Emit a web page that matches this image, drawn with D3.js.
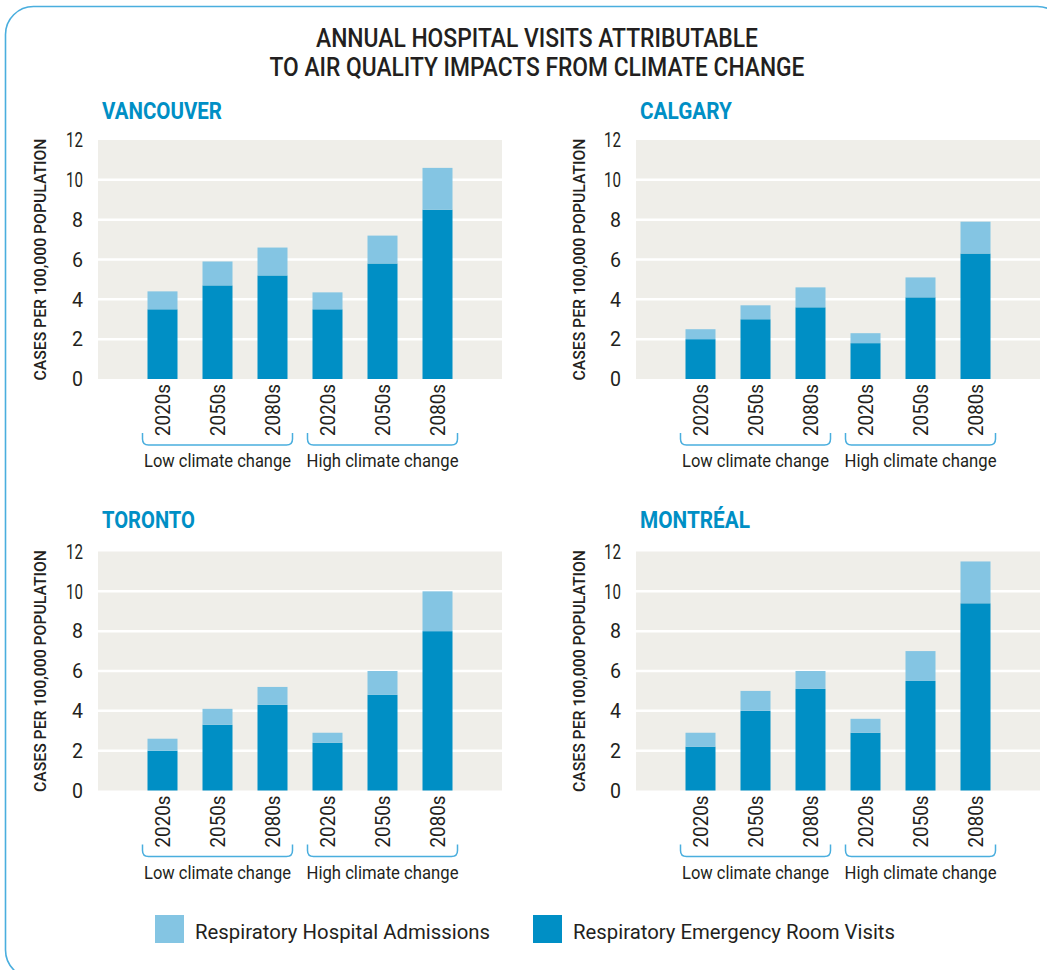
<!DOCTYPE html>
<html><head><meta charset="utf-8">
<script src="https://cdn.jsdelivr.net/npm/d3@7"></script>
<style>body{margin:0;background:#fff}svg{display:block}</style>
</head><body><svg id="c" width="1047" height="970"></svg>
<script>
// ---------- data ----------
const titleLines = ["ANNUAL HOSPITAL VISITS ATTRIBUTABLE", "TO AIR QUALITY IMPACTS FROM CLIMATE CHANGE"];
const cities = ["VANCOUVER", "CALGARY", "TORONTO", "MONTRÉAL"];
const scenarios = ["Low climate change", "High climate change"];
const decades = ["2020s", "2050s", "2080s"];
const seriesNames = ["Respiratory Hospital Admissions", "Respiratory Emergency Room Visits"];
const yTicks = [0, 2, 4, 6, 8, 10, 12];
const yLabel = "CASES PER 100,000 POPULATION";

// Respiratory emergency room visits (dark), per 100,000 — low 2020s,2050s,2080s, high 2020s,2050s,2080s
const vancouverER  = [3.5, 4.7, 5.2, 3.5, 5.8, 8.5];
const calgaryER    = [2.0, 3.0, 3.6, 1.8, 4.1, 6.3];
const torontoER    = [2.0, 3.3, 4.3, 2.4, 4.8, 8.0];
const montrealER   = [2.2, 4.0, 5.1, 2.9, 5.5, 9.4];
// Respiratory hospital admissions (light), stacked on top
const vancouverAdm = [0.9, 1.2, 1.4, 0.85, 1.4, 2.1];
const calgaryAdm   = [0.5, 0.7, 1.0, 0.5, 1.0, 1.6];
const torontoAdm   = [0.6, 0.8, 0.9, 0.5, 1.2, 2.0];
const montrealAdm  = [0.7, 1.0, 0.9, 0.7, 1.5, 2.1];

const erSeries  = [vancouverER, calgaryER, torontoER, montrealER];
const admSeries = [vancouverAdm, calgaryAdm, torontoAdm, montrealAdm];

// ---------- styles ----------
const C_DARK = "#008fc5", C_LIGHT = "#84c5e3", C_BG = "#efeee9", C_TEXT = "#231f20", C_BRACKET = "#4aaede";
const FONT = "'Liberation Sans Narrow','Roboto','Liberation Sans',sans-serif";

const svg = d3.select("#c");

function fit(sel, len) {
  sel.attr("textLength", len).attr("lengthAdjust", "spacingAndGlyphs");
  return sel;
}

// outer rounded border
svg.append("rect")
  .attr("x", 5.5).attr("y", 6.5).attr("width", 1060).attr("height", 971.5)
  .attr("rx", 28).attr("ry", 28)
  .attr("fill", "none").attr("stroke", C_BRACKET).attr("stroke-width", 1.6);

// title
const titleLens = [442, 535];
titleLines.forEach((t, i) => {
  fit(svg.append("text")
    .attr("x", 537).attr("y", 47 + i * 28.5)
    .attr("text-anchor", "middle")
    .attr("font-family", FONT).attr("font-size", 25).attr("font-weight", 500)
    .attr("fill", C_TEXT).text(t), titleLens[i]);
});

// panel geometry
const panels = [
  { left: 98,  zeroY: 379,   titleY: 119, yTitleX: 40 },
  { left: 636, zeroY: 379,   titleY: 119, yTitleX: 579 },
  { left: 98,  zeroY: 790.5, titleY: 528, yTitleX: 40 },
  { left: 636, zeroY: 790.5, titleY: 528, yTitleX: 579 }
];
const plotW = 404, plotH = 239;
const cityLens = [120, 92, 93, 110];

const keys = [];
scenarios.forEach(s => decades.forEach(d => keys.push(s + "|" + d)));

panels.forEach((p, pi) => {
  const g = svg.append("g");
  const x = d3.scaleBand().domain(keys)
    .range([p.left + 37, p.left + 37 + 330])
    .paddingInner(25 / 55).paddingOuter(12.5 / 55);
  const y = d3.scaleLinear().domain([0, 12]).range([p.zeroY, p.zeroY - plotH]);

  // background
  g.append("rect").attr("x", p.left).attr("y", y(12)).attr("width", plotW).attr("height", plotH)
    .attr("fill", C_BG);
  // gridlines
  g.selectAll(".grid").data(yTicks.filter(v => v > 0 && v < 12)).join("line")
    .attr("x1", p.left).attr("x2", p.left + plotW)
    .attr("y1", d => y(d)).attr("y2", d => y(d))
    .attr("stroke", "#fff").attr("stroke-width", 2.5);

  // stacked bars
  const er = erSeries[pi], adm = admSeries[pi];
  g.selectAll(".er").data(keys).join("rect")
    .attr("x", d => x(d)).attr("width", x.bandwidth())
    .attr("y", (d, i) => y(er[i])).attr("height", (d, i) => y(0) - y(er[i]))
    .attr("fill", C_DARK);
  g.selectAll(".adm").data(keys).join("rect")
    .attr("x", d => x(d)).attr("width", x.bandwidth())
    .attr("y", (d, i) => y(er[i] + adm[i])).attr("height", (d, i) => y(er[i]) - y(er[i] + adm[i]))
    .attr("fill", C_LIGHT);

  // y axis
  const ya = g.append("g").attr("transform", `translate(${p.left},0)`)
    .call(d3.axisLeft(y).tickValues(yTicks).tickSize(0).tickPadding(15));
  ya.select(".domain").remove();
  ya.selectAll("text").attr("font-family", FONT).attr("font-size", 21).attr("fill", C_TEXT)
    .each(function(d) { fit(d3.select(this), String(d).length > 1 ? 17 : 11); });

  // x axis
  const xa = g.append("g").attr("transform", `translate(0,${p.zeroY})`)
    .call(d3.axisBottom(x).tickSize(0).tickFormat(d => d.split("|")[1]));
  xa.select(".domain").remove();
  xa.selectAll("text")
    .attr("font-family", FONT).attr("font-size", 20).attr("fill", C_TEXT)
    .attr("text-anchor", "end").attr("dy", "0.35em")
    .attr("transform", "translate(0,5) rotate(-90)")
    .attr("x", 0).attr("y", 0)
    .each(function() { fit(d3.select(this), 52); });

  // brackets and scenario labels
  scenarios.forEach((s, si) => {
    const first = x(s + "|" + decades[0]);
    const last = x(s + "|" + decades[decades.length - 1]) + x.bandwidth();
    const x1 = first - 5, x2 = last + 5, yb = p.zeroY + 66, yt = yb - 12, r = 6;
    g.append("path")
      .attr("d", `M${x1},${yt} V${yb - r} Q${x1},${yb} ${x1 + r},${yb} H${x2 - r} Q${x2},${yb} ${x2},${yb - r} V${yt}`)
      .attr("fill", "none").attr("stroke", C_BRACKET).attr("stroke-width", 1.5);
    fit(g.append("text")
      .attr("x", (x1 + x2) / 2).attr("y", p.zeroY + 88)
      .attr("text-anchor", "middle")
      .attr("font-family", FONT).attr("font-size", 18).attr("fill", C_TEXT)
      .text(s), si === 0 ? 147 : 152);
  });

  // city title
  fit(g.append("text")
    .attr("x", p.left + 4).attr("y", p.titleY)
    .attr("font-family", FONT).attr("font-size", 23).attr("font-weight", 700)
    .attr("fill", C_DARK).text(cities[pi]), cityLens[pi]);

  // y axis title
  fit(g.append("text")
    .attr("transform", `translate(${p.yTitleX},${(y(0) + y(12)) / 2}) rotate(-90)`)
    .attr("text-anchor", "middle").attr("dy", "0.35em")
    .attr("font-family", FONT).attr("font-size", 17).attr("font-weight", 500)
    .attr("fill", C_TEXT).text(yLabel), 242);
});

// legend
const legendColors = [C_LIGHT, C_DARK];
const legendX = [155, 533];
const legendLens = [295, 322];
seriesNames.forEach((n, i) => {
  svg.append("rect").attr("x", legendX[i]).attr("y", 915).attr("width", 29).attr("height", 28)
    .attr("fill", legendColors[i]);
  fit(svg.append("text")
    .attr("x", legendX[i] + 40).attr("y", 939)
    .attr("font-family", FONT).attr("font-size", 21).attr("fill", C_TEXT)
    .text(n), legendLens[i]);
});
</script>
</body></html>
